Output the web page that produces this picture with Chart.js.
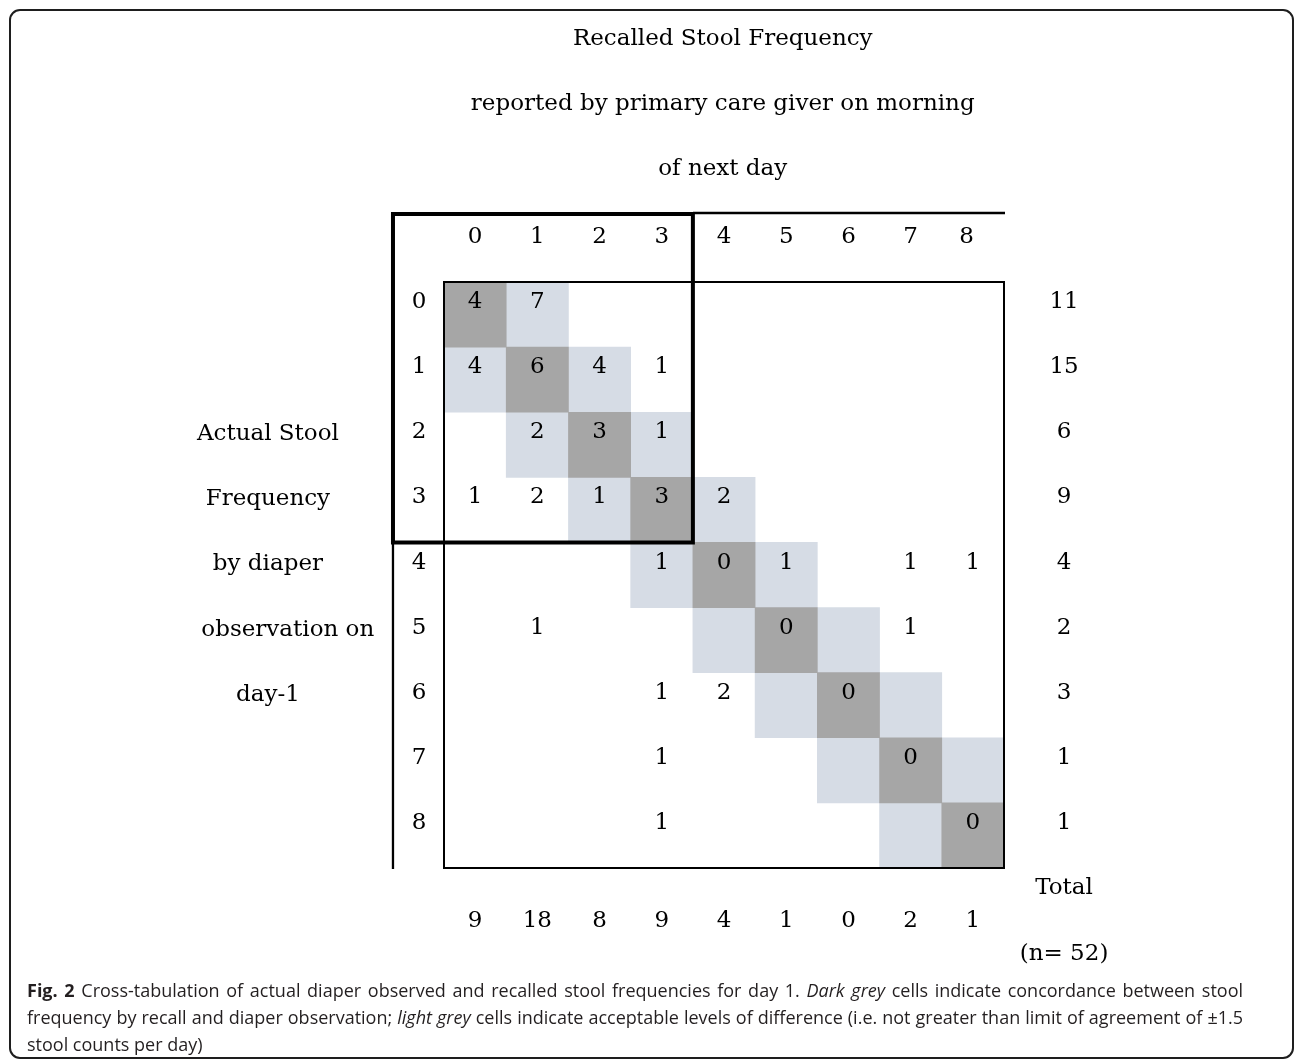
<!DOCTYPE html>
<html>
<head>
<meta charset="utf-8">
<script src="https://cdn.jsdelivr.net/npm/chart.js@4.4.1/dist/chart.umd.min.js"></script>
<style>
  html, body { margin: 0; padding: 0; background: #ffffff; }
  #wrap { position: relative; width: 1296px; height: 1063px; overflow: hidden; }
  #frame { position: absolute; left: 9px; top: 9px; width: 1285px; height: 1050px; box-sizing: border-box;
           border: 2px solid #1e1e1e; border-radius: 11px; }
  #chartBox { position: absolute; left: 0; top: 0; width: 1296px; height: 1063px; }
  #caption { position: absolute; left: 27px; top: 977px; width: 1216px;
             font-family: "Open Sans", "Noto Sans", sans-serif; font-size: 18px; line-height: 27px; color: #231f20; }
  #caption div { white-space: nowrap; }
  #caption .j { text-align: justify; text-align-last: justify; }
  #caption b { font-weight: 700; }
</style>
</head>
<body>
<div id="wrap">
  <div id="frame"></div>
  <div id="chartBox"><canvas id="c"></canvas></div>
  <div id="caption">
    <div class="j"><b>Fig. 2</b> Cross-tabulation of actual diaper observed and recalled stool frequencies for day 1. <i>Dark grey</i> cells indicate concordance between stool</div>
    <div class="j">frequency by recall and diaper observation; <i>light grey</i> cells indicate acceptable levels of difference (i.e. not greater than limit of agreement of ±1.5</div>
    <div>stool counts per day)</div>
  </div>
</div>
<script>
// ---------------- data ----------------
const recalledLabels = ['0', '1', '2', '3', '4', '5', '6', '7', '8'];   // columns
const actualLabels   = ['0', '1', '2', '3', '4', '5', '6', '7', '8'];   // rows
// counts[row][col]; null = empty cell
const counts = [
  [4,    7,    null, null, null, null, null, null, null],
  [4,    6,    4,    1,    null, null, null, null, null],
  [null, 2,    3,    1,    null, null, null, null, null],
  [1,    2,    1,    3,    2,    null, null, null, null],
  [null, null, null, 1,    0,    1,    null, 1,    1   ],
  [null, 1,    null, null, null, 0,    null, 1,    null],
  [null, null, null, 1,    2,    null, 0,    null, null],
  [null, null, null, 1,    null, null, null, 0,    null],
  [null, null, null, 1,    null, null, null, null, 0   ]
];
const rowTotals = [11, 15, 6, 9, 4, 2, 3, 1, 1];
const colTotals = [9, 18, 8, 9, 4, 1, 0, 2, 1];
const totalLabel = 'Total';
const grandTotalLabel = '(n= 52)';
// [col, row] cells
const concordantCells = [[0,0],[1,1],[2,2],[3,3],[4,4],[5,5],[6,6],[7,7],[8,8]];
const acceptableCells = [[0,1],[1,0],[1,2],[2,1],[2,3],[3,2],[3,4],[4,3],[4,5],[5,4],[5,6],[6,5],[6,7],[7,6],[7,8],[8,7]];
const titleLines = ['Recalled Stool Frequency', 'reported by primary care giver on morning', 'of next day'];
const rowAxisLines = ['Actual Stool', 'Frequency', 'by diaper', 'observation on', 'day-1'];

// ---------------- layout constants ----------------
const SERIF = '23px "DejaVu Serif", serif';
const TEXT_OFF = -0.222;          // text centre offset inside a row (in row units)
const DARK = '#a6a6a6';
const LIGHT = '#d6dce5';

const tablePlugin = {
  id: 'crossTab',
  afterDatasetsDraw(chart) {
    const { ctx, scales: { x, y }, chartArea: a } = chart;
    const X = v => x.getPixelForValue(v);
    const Y = v => y.getPixelForValue(v);
    ctx.save();
    ctx.fillStyle = '#000';
    ctx.font = SERIF;
    const capH = ctx.measureText('0').actualBoundingBoxAscent;
    const txt = (s, px, py) => {
      ctx.textAlign = 'center';
      ctx.textBaseline = 'alphabetic';
      ctx.fillText(String(s), px, py + capH / 2);
    };
    // title
    titleLines.forEach((s, i) => txt(s, X(3.98), Y(-4 + i - 0.267)));
    // column header
    recalledLabels.forEach((s, c) => txt(s, X(c === 8 ? 7.9 : c), Y(-1 + TEXT_OFF)));
    // row labels
    actualLabels.forEach((s, r) => txt(s, X(-0.9), Y(r + TEXT_OFF)));
    // cells
    counts.forEach((row, r) => row.forEach((v, c) => { if (v !== null) txt(v, X(c), Y(r + TEXT_OFF)); }));
    // row totals
    rowTotals.forEach((v, r) => txt(v, X(9.465), Y(r + TEXT_OFF)));
    txt(totalLabel, X(9.465), Y(9 + TEXT_OFF));
    // column totals
    colTotals.forEach((v, c) => txt(v, X(c), Y(9.5 + TEXT_OFF)));
    txt(grandTotalLabel, X(9.465), Y(10 - 0.21));
    // row axis title
    const rowAxisX = [-3.33, -3.33, -3.33, -3.01, -3.33];
    rowAxisLines.forEach((s, i) => txt(s, X(rowAxisX[i]), Y(2 + i + TEXT_OFF + 0.03)));

    // lines
    ctx.strokeStyle = '#000';
    ctx.lineCap = 'butt';
    // inner box
    ctx.lineWidth = 2;
    ctx.strokeRect(a.left, a.top, a.right - a.left, a.bottom - a.top);
    // thin extensions
    const leftX = X(-1.32);
    const topY = Y(-1.544);
    ctx.lineWidth = 2.3;
    ctx.beginPath();
    ctx.moveTo(leftX, Y(3.5)); ctx.lineTo(leftX, a.bottom + 1);
    ctx.moveTo(X(3.5), topY - 1); ctx.lineTo(a.right + 1, topY - 1);
    ctx.stroke();
    // thick box (recalled 0-3 x actual 0-3)
    ctx.lineWidth = 4;
    ctx.beginPath();
    ctx.rect(leftX, topY, X(3.5) - leftX, Y(3.5) - topY);
    ctx.stroke();
    ctx.restore();
  }
};

const cellData = cells => cells.map(([c, r]) => ({ x: recalledLabels[c], y: [r - 0.5, r + 0.5] }));

new Chart(document.getElementById('c'), {
  type: 'bar',
  data: {
    labels: recalledLabels,
    datasets: [
      { label: 'Concordance', data: cellData(concordantCells), backgroundColor: DARK,
        grouped: false, barPercentage: 1, categoryPercentage: 1, borderWidth: 0, borderSkipped: false },
      { label: 'Acceptable difference', data: cellData(acceptableCells), backgroundColor: LIGHT,
        grouped: false, barPercentage: 1, categoryPercentage: 1, borderWidth: 0, borderSkipped: false }
    ]
  },
  options: {
    responsive: true,
    maintainAspectRatio: false,
    animation: false,
    events: [],
    layout: { padding: { left: 444, right: 292, top: 282, bottom: 195 } },
    plugins: { legend: { display: false }, tooltip: { enabled: false }, title: { display: false } },
    scales: {
      x: { type: 'category', offset: true, display: false, grid: { display: false } },
      y: { type: 'linear', min: -0.5, max: 8.5, reverse: true, display: false, grid: { display: false } }
    }
  },
  plugins: [tablePlugin]
});
</script>
</body>
</html>
